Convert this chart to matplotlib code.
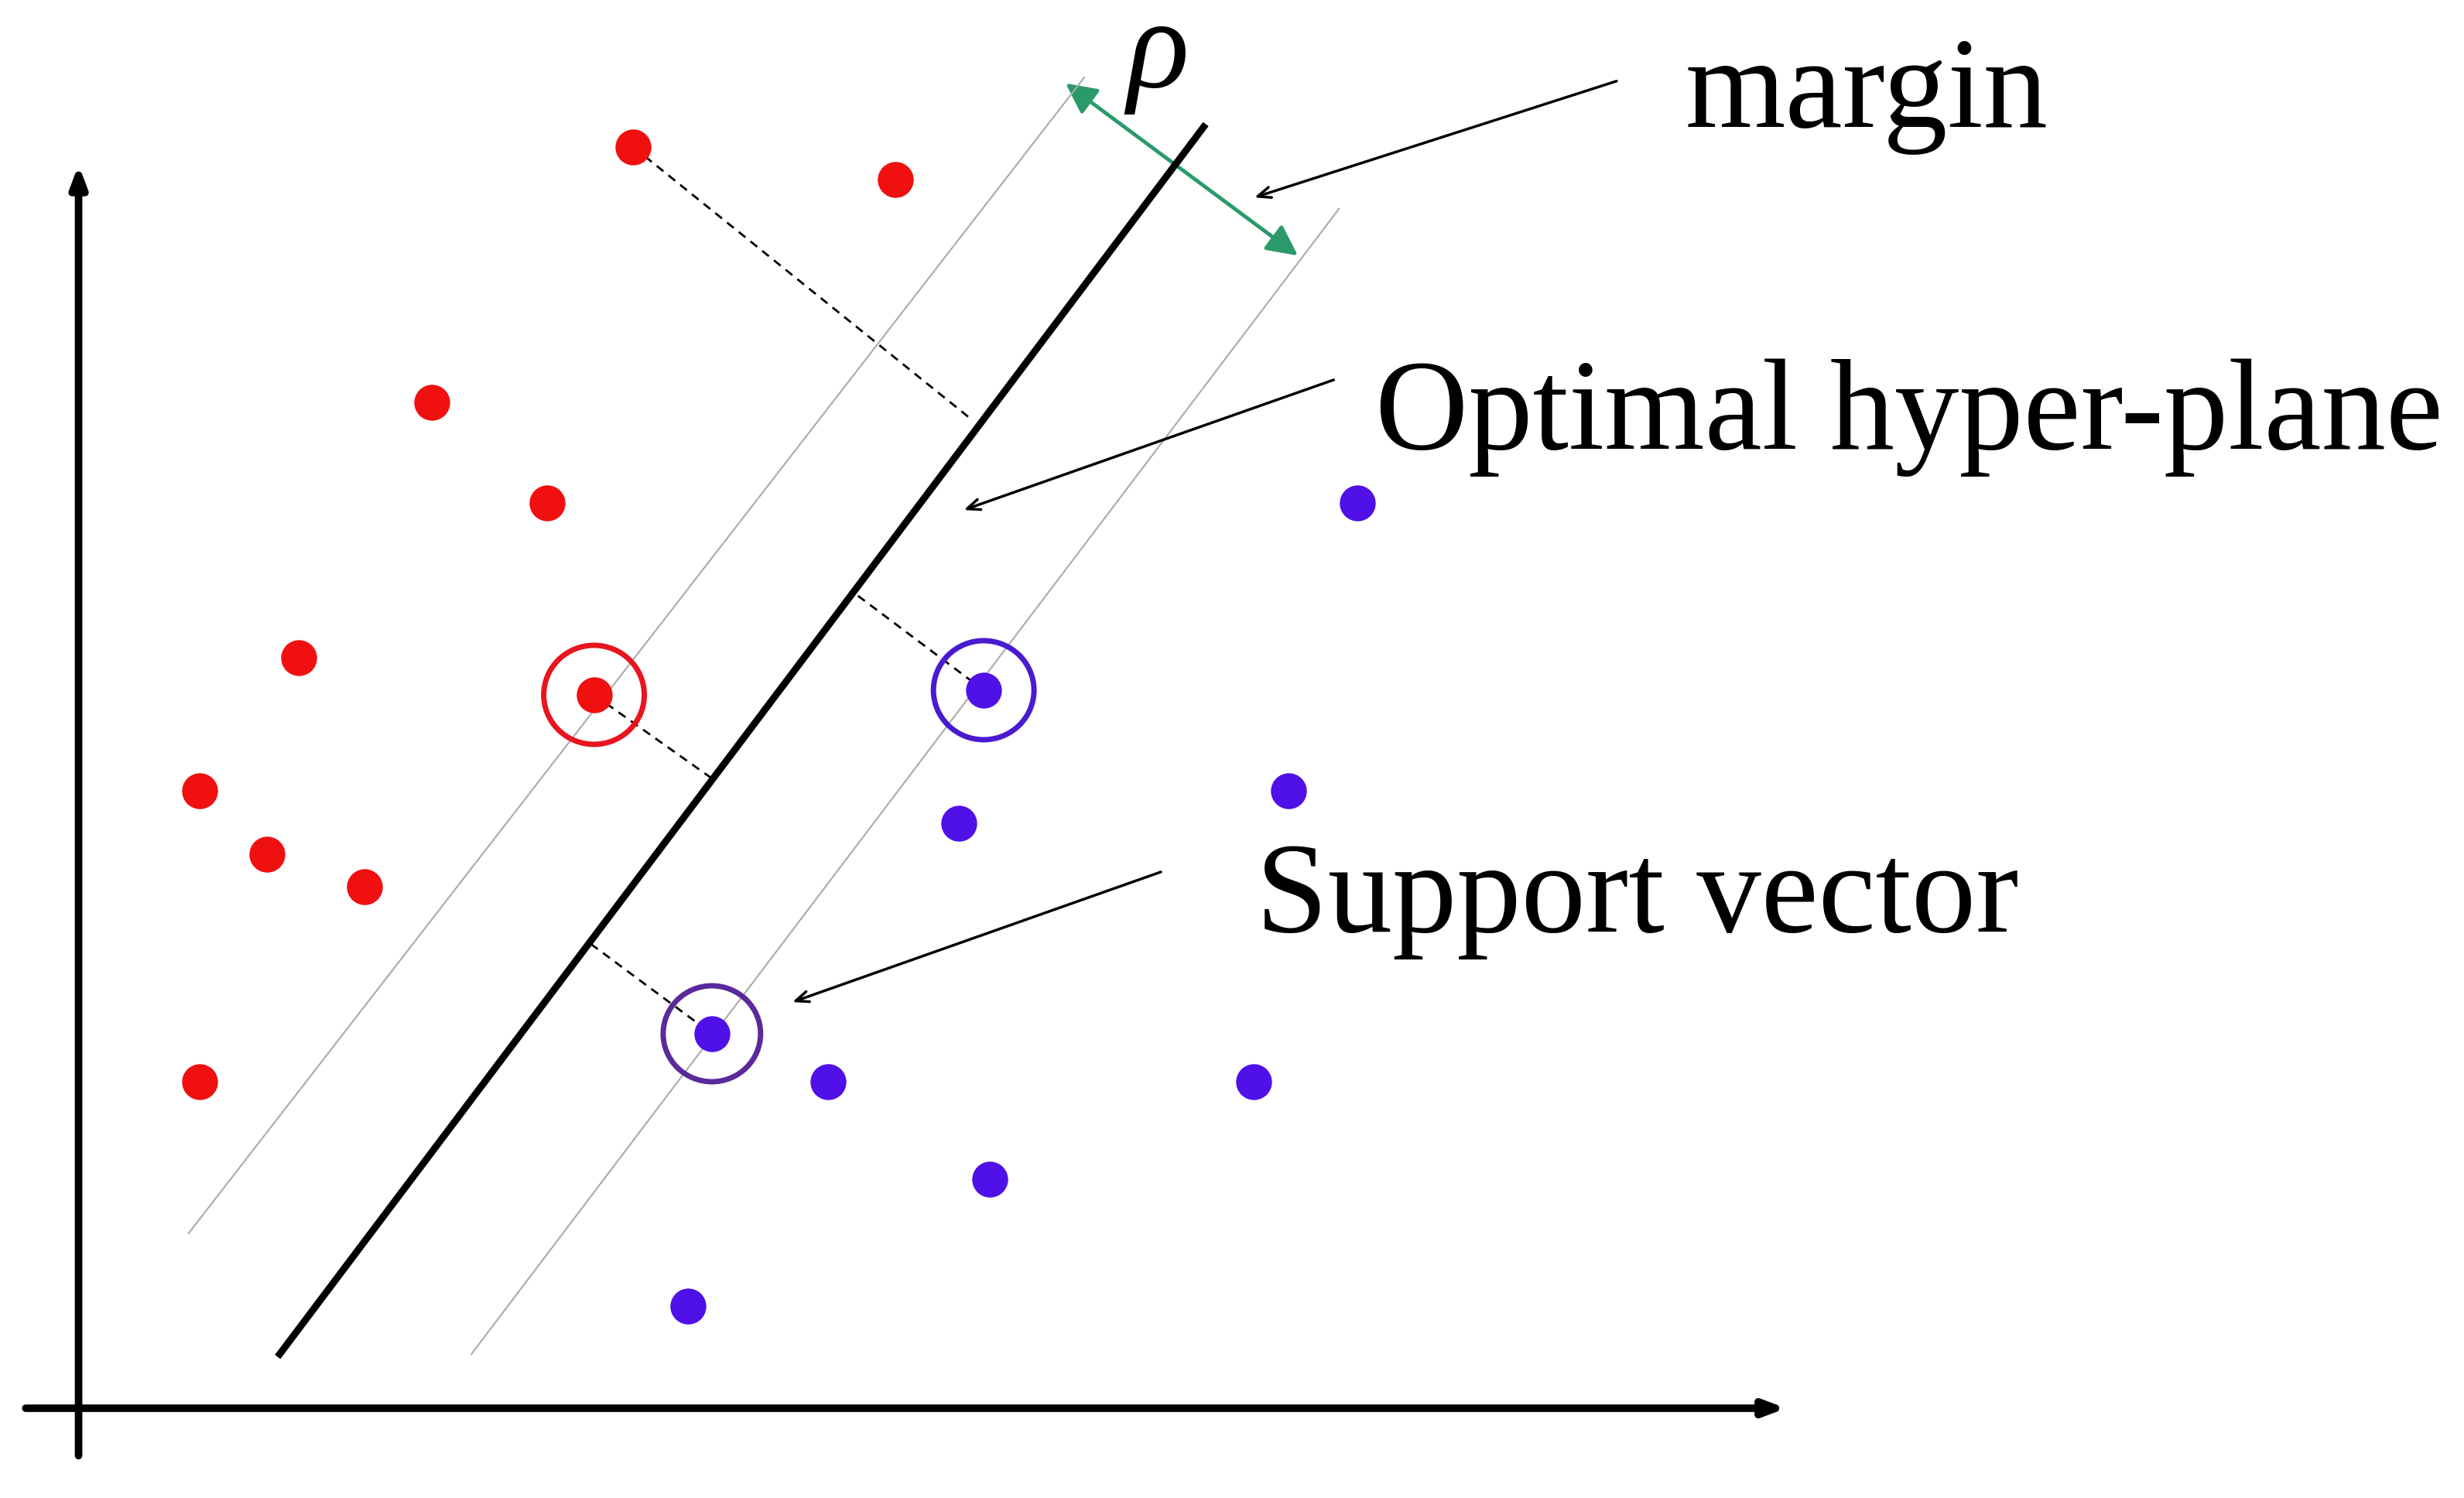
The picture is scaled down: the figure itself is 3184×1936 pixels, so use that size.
import matplotlib
matplotlib.use('Agg')
import matplotlib.pyplot as plt
from matplotlib.patches import FancyArrowPatch, Circle

# coordinates read in picture units (1568 x 968 reference)
red_x = [403, 570, 275, 348, 190, 378, 127, 170, 232, 127]
red_y = [95, 116, 260, 325, 425, 449, 511, 552, 573, 699]
blue_x = [864, 626, 820, 610, 453, 527, 798, 630, 438]
blue_y = [325, 446, 511, 532, 668, 699, 699, 762, 844]

# support vectors: x, y, radius, colour
sv = [(378, 449, 32, '#e8141e'), (626, 446, 32, '#4a1ad0'), (453, 668, 31, '#5a2a9a')]

hyperplane = [(178, 875), (766, 82)]
margins = [[(120, 797), (690, 50)], [(300, 875), (852, 135)]]
dashes = [[(403, 95), (617, 270)], [(546, 385), (626, 446)],
          [(378, 449), (453, 503)], [(376, 610), (453, 668)]]

fig = plt.figure(figsize=(31.84, 19.36), dpi=100)
ax = fig.add_axes([0, 0, 1, 1])
ax.set_xlim(0, 1568)
ax.set_ylim(968, 0)
ax.axis('off')

# axes arrows
ax.annotate('', xy=(50, 105), xytext=(50, 942),
            arrowprops=dict(arrowstyle='-|>,head_length=1.6,head_width=0.6', lw=7, color='black'))
ax.annotate('', xy=(1138, 910), xytext=(15, 910),
            arrowprops=dict(arrowstyle='-|>,head_length=1.6,head_width=0.6', lw=7, color='black'))

for seg in margins:
    ax.plot([seg[0][0], seg[1][0]], [seg[0][1], seg[1][1]], color='#aaaaaa', lw=1.5)
for seg in dashes:
    ax.plot([seg[0][0], seg[1][0]], [seg[0][1], seg[1][1]], color='black', lw=2, ls=(0, (4, 3)))
ax.plot([hyperplane[0][0], hyperplane[1][0]], [hyperplane[0][1], hyperplane[1][1]], color='black', lw=6.5)

ax.scatter(red_x, red_y, s=1050, color='#f01010', zorder=3)
ax.scatter(blue_x, blue_y, s=1050, color='#5010e8', zorder=3)
for x, y, r, c in sv:
    ax.add_patch(Circle((x, y), r, fill=False, ec=c, lw=5, zorder=4))

# margin arrow
ax.add_patch(FancyArrowPatch((677, 53), (827, 166), arrowstyle='<|-|>,head_length=12,head_width=6',
                             color='#2a9a6a', lw=3.5, mutation_scale=2))

font = dict(family='Liberation Serif', fontsize=120)
ax.text(737, 36, 'ρ', ha='center', va='center', style='italic', **font)
ax.text(1188, 62, 'margin', ha='center', va='center', **font)
ax.text(1215, 270, 'Optimal hyper-plane', ha='center', va='center', **font)
ax.text(1042, 582, 'Support vector', ha='center', va='center', **font)

arrows = [((1030, 52), (797, 128)), ((850, 245), (612, 330)), ((740, 563), (503, 648))]
for start, end in arrows:
    ax.annotate('', xy=end, xytext=start,
                arrowprops=dict(arrowstyle='->,head_length=1.2,head_width=0.5', lw=2.5, color='black'))

fig.savefig('out.png', dpi=100, facecolor='white')
